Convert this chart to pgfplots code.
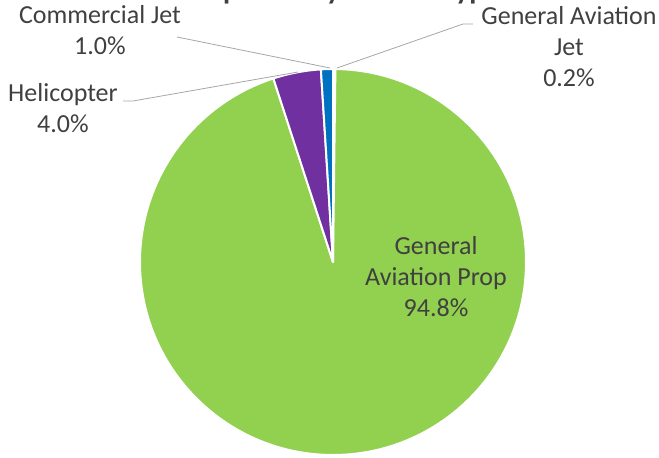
\documentclass[border=0pt]{standalone}
\usepackage{pgfplots}
\pgfplotsset{compat=1.18}
\usepackage{fontspec}
\setmainfont{Carlito}

\definecolor{gaprop}{HTML}{92D050}
\definecolor{heli}{HTML}{7030A0}
\definecolor{cjet}{HTML}{0070C0}
\definecolor{gajet}{HTML}{A5A5A5}
\definecolor{lbl}{HTML}{404040}
\definecolor{leader}{HTML}{A6A6A6}

\begin{document}
\begin{tikzpicture}[lab/.style={anchor=base, text=lbl, font=\fontsize{26}{31}\selectfont, inner sep=0pt}]
  \begin{axis}[
      x=1pt, y=1pt,
      xmin=-333, xmax=326,
      ymin=-196, ymax=262,
      hide axis,
      clip=false
    ]
    \coordinate (bl) at (axis cs:-333,-196);
    \coordinate (tr) at (axis cs:326,262);

    % slices, clockwise from 12 o'clock (percent values)
    \xdef\cum{0}
    \foreach \v/\c in {0.2/gajet, 94.8/gaprop, 4.0/heli, 1.0/cjet} {
      \pgfmathsetmacro\a{90-3.6*\cum}
      \pgfmathsetmacro\b{90-3.6*(\cum+\v)}
      \edef\temp{\noexpand\fill[\c, draw=white, line width=2pt, line join=round]
        (axis cs:0,0) -- (axis cs:{193*cos(\a)},{193*sin(\a)})
        arc[start angle=\a, end angle=\b, radius=193pt] -- cycle;}
      \temp
      \pgfmathsetmacro\n{\cum+\v}
      \xdef\cum{\n}
    }

    % leader lines
    \draw[leader, line width=0.8pt] (axis cs:-156,225) -- (axis cs:-3,194);
    \draw[leader, line width=0.8pt] (axis cs:-210,161) -- (axis cs:-200,161) -- (axis cs:-35,190);
    \draw[leader, line width=0.8pt] (axis cs:140,238) -- (axis cs:130,238) -- (axis cs:4,194);

    % data labels
    \node[lab] at (axis cs:-233,238) {Commercial Jet};
    \node[lab] at (axis cs:-233,207) {1.0\%};
    \node[lab] at (axis cs:236,237) {General Aviation};
    \node[lab] at (axis cs:236,206) {Jet};
    \node[lab] at (axis cs:236,175) {0.2\%};
    \node[lab] at (axis cs:-270,160) {Helicopter};
    \node[lab] at (axis cs:-270,129) {4.0\%};
    \node[lab] at (axis cs:103,7) {General};
    \node[lab] at (axis cs:103,-24) {Aviation Prop};
    \node[lab] at (axis cs:103,-55) {94.8\%};

    % title, cut off by the top edge
    \begin{scope}
      \clip (axis cs:-333,-196) rectangle (axis cs:326,262);
      \node[anchor=base, text=lbl, inner sep=0pt, font=\fontsize{29}{35}\selectfont\bfseries]
        at (axis cs:1,262.5) {Complaints by Aircraft Type};
    \end{scope}
  \end{axis}
  \pgfresetboundingbox
  \path (bl) rectangle (tr);
\end{tikzpicture}
\end{document}
